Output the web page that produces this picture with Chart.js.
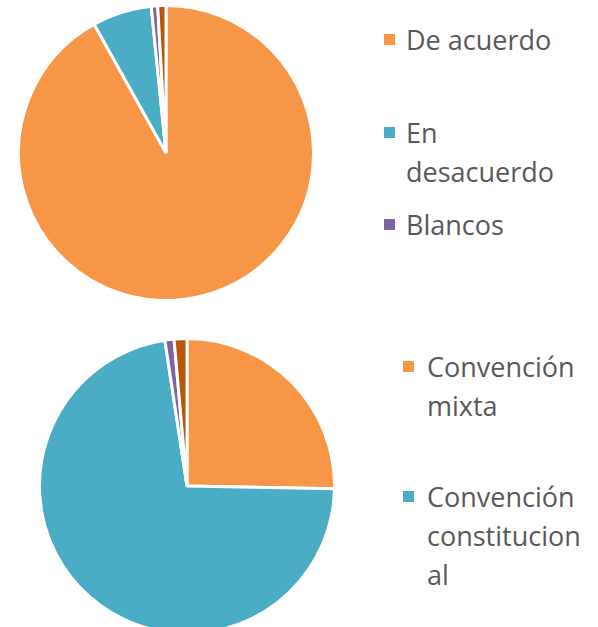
<!DOCTYPE html>
<html>
<head>
<meta charset="utf-8">
<script src="https://cdn.jsdelivr.net/npm/chart.js@4/dist/chart.umd.min.js"></script>
<style>
  html, body { margin: 0; padding: 0; background: #fff; overflow: hidden; }
  body { width: 598px; height: 627px; position: relative; font-family: 'Open Sans', sans-serif; }
  canvas { position: absolute; }
  .leg { position: absolute; color: #595959; font-size: 27px; line-height: 39px; white-space: nowrap; }
  .leg .sq { position: absolute; width: 11px; height: 11px; }
</style>
</head>
<body>
<canvas id="pieTop" width="298" height="298" style="left:17px;top:4px"></canvas>
<canvas id="pieBottom" width="298" height="298" style="left:38px;top:337px"></canvas>
<div id="legendTop"></div>
<div id="legendBottom"></div>
<script>
// datos del gráfico superior
const labelsTop = ['De acuerdo', 'En desacuerdo', 'Blancos', 'Nulos'];
const valuesTop = [91.9, 6.5, 0.7, 0.9];
// texto de leyenda tal como se parte en la imagen
const legendTopLines = [['De acuerdo'], ['En', 'desacuerdo'], ['Blancos']];

// datos del gráfico inferior
const labelsBottom = ['Convención mixta', 'Convención constitucional', 'Blancos', 'Nulos'];
const valuesBottom = [25.3, 72.3, 1.0, 1.4];
const legendBottomLines = [['Convención', 'mixta'], ['Convención', 'constitucion', 'al']];

const colors = ['#F79646', '#4BACC6', '#8064A2', '#B65708'];

function makePie(id, labels, values) {
  new Chart(document.getElementById(id).getContext('2d'), {
    type: 'pie',
    data: {
      labels: labels,
      datasets: [{
        data: values,
        backgroundColor: colors,
        borderColor: '#ffffff',
        borderWidth: 3,
      }],
    },
    options: {
      responsive: false,
      animation: false,
      layout: { padding: 0 },
      plugins: {
        legend: { display: false },
        tooltip: { enabled: false },
      },
    },
  });
}

makePie('pieTop', labelsTop, valuesTop);
makePie('pieBottom', labelsBottom, valuesBottom);

// leyendas en HTML (el texto se parte en varias líneas como en Excel)
function makeLegend(id, lines, left, tops, sqLeft) {
  const box = document.getElementById(id);
  lines.forEach((ln, i) => {
    const d = document.createElement('div');
    d.className = 'leg';
    d.style.left = left + 'px';
    d.style.top = tops[i] + 'px';
    d.innerHTML = ln.join('<br>');
    const sq = document.createElement('div');
    sq.className = 'sq';
    sq.style.background = colors[i];
    sq.style.left = (sqLeft - left) + 'px';
    sq.style.top = '14px';
    d.appendChild(sq);
    box.appendChild(d);
  });
}

makeLegend('legendTop', legendTopLines, 406, [20, 113, 205], 384);
makeLegend('legendBottom', legendBottomLines, 427, [347, 477], 403);
</script>
</body>
</html>
